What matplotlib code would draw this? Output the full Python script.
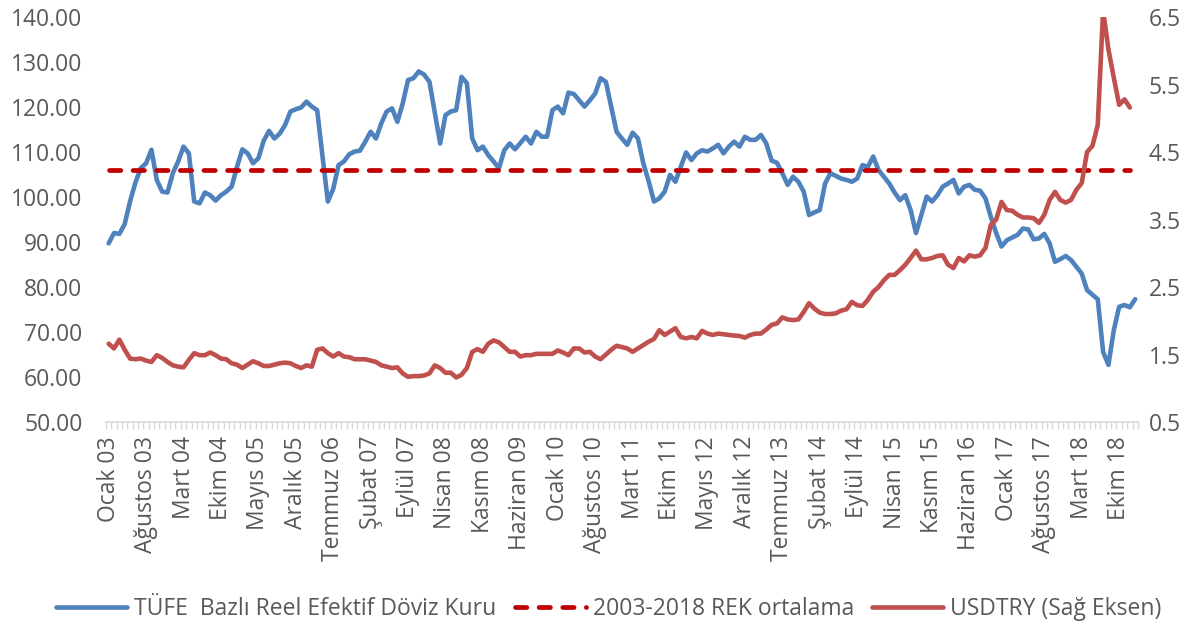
import numpy as np
import matplotlib
matplotlib.use("Agg")
import matplotlib.pyplot as plt
from matplotlib.ticker import FormatStrFormatter

# TÜFE bazlı reel efektif döviz kuru, aylık (Ocak 2003 - Ocak 2019)
rek = [89.7, 92.0, 91.8, 94.0, 99.0, 103.2, 106.4, 107.5, 110.5, 103.8,
       101.2, 101.0, 105.3, 107.9, 111.2, 109.7, 99.0, 98.6, 101.0, 100.4,
       99.2, 100.4, 101.2, 102.3, 106.7, 110.6, 109.7, 107.5, 108.6, 112.5,
       114.7, 113.0, 114.1, 116.0, 119.0, 119.5, 119.9, 121.2, 120.1, 119.3,
       109.0, 99.0, 101.8, 107.1, 107.9, 109.5, 110.1, 110.3, 112.3, 114.5,
       113.0, 116.4, 119.0, 119.7, 116.7, 120.8, 126.0, 126.4, 127.9, 127.2,
       125.6, 118.7, 111.9, 118.2, 119.0, 119.3, 126.7, 125.3, 113.0, 110.4,
       111.2, 109.3, 107.9, 106.4, 110.4, 111.9, 110.6, 112.0, 113.4, 111.9,
       114.5, 113.4, 113.4, 119.3, 120.1, 118.6, 123.2, 122.9, 121.5, 120.1,
       121.5, 123.0, 126.4, 125.6, 120.1, 114.5, 113.0, 111.6, 114.3, 113.0,
       107.5, 103.5, 99.0, 99.7, 101.2, 104.9, 103.4, 106.7, 109.9, 108.2,
       109.7, 110.4, 110.1, 110.8, 111.6, 109.7, 111.2, 112.3, 111.2, 113.4,
       112.7, 112.7, 113.8, 111.9, 108.1, 107.6, 105.3, 102.7, 104.5, 103.4,
       101.2, 96.0, 96.6, 97.1, 103.0, 105.3, 104.7, 104.1, 103.8, 103.4,
       104.1, 107.1, 106.7, 109.0, 106.0, 104.5, 103.0, 101.0, 99.3, 100.4,
       97.1, 92.0, 96.0, 100.1, 99.0, 100.4, 102.3, 103.0, 103.8, 100.8,
       102.3, 102.7, 101.6, 101.4, 99.7, 95.6, 92.0, 89.0, 90.4, 91.0,
       91.6, 93.0, 92.8, 90.6, 90.8, 91.8, 89.7, 85.6, 86.2, 86.9,
       86.0, 84.5, 83.0, 79.3, 78.3, 77.3, 65.6, 62.7, 70.4, 75.6,
       76.0, 75.5, 77.3]

# USDTRY (sağ eksen)
usdtry = [1.66, 1.59, 1.72, 1.57, 1.44, 1.43, 1.44, 1.41, 1.39, 1.49,
          1.45, 1.39, 1.34, 1.32, 1.31, 1.42, 1.52, 1.49, 1.49, 1.53,
          1.49, 1.44, 1.43, 1.37, 1.35, 1.30, 1.35, 1.40, 1.37, 1.33,
          1.33, 1.35, 1.37, 1.38, 1.37, 1.33, 1.30, 1.34, 1.32, 1.57,
          1.59, 1.52, 1.47, 1.52, 1.47, 1.46, 1.43, 1.43, 1.43, 1.41,
          1.39, 1.34, 1.32, 1.30, 1.31, 1.22, 1.17, 1.18, 1.18, 1.19,
          1.22, 1.34, 1.30, 1.23, 1.23, 1.16, 1.20, 1.30, 1.54, 1.58,
          1.54, 1.66, 1.71, 1.68, 1.61, 1.54, 1.54, 1.47, 1.49, 1.49,
          1.51, 1.51, 1.51, 1.51, 1.56, 1.53, 1.49, 1.59, 1.59, 1.53,
          1.54, 1.47, 1.43, 1.50, 1.57, 1.63, 1.61, 1.59, 1.54, 1.59,
          1.64, 1.69, 1.73, 1.86, 1.79, 1.84, 1.89, 1.76, 1.74, 1.76,
          1.74, 1.85, 1.81, 1.79, 1.81, 1.80, 1.79, 1.78, 1.775, 1.75,
          1.79, 1.81, 1.81, 1.87, 1.94, 1.96, 2.05, 2.02, 2.01, 2.02,
          2.13, 2.26, 2.18, 2.12, 2.10, 2.10, 2.11, 2.15, 2.17, 2.28,
          2.23, 2.22, 2.31, 2.43, 2.50, 2.60, 2.68, 2.68, 2.75, 2.83,
          2.93, 3.04, 2.91, 2.91, 2.93, 2.96, 2.97, 2.83, 2.78, 2.93,
          2.88, 2.97, 2.95, 2.97, 3.08, 3.42, 3.50, 3.76, 3.64, 3.63,
          3.57, 3.53, 3.53, 3.52, 3.45, 3.57, 3.79, 3.91, 3.79, 3.75,
          3.79, 3.94, 4.04, 4.50, 4.59, 4.90, 6.60, 6.02, 5.60, 5.20,
          5.28, 5.16]

rek_ort = 106.0  # 2003-2018 ortalaması
n_ort = 192

tick_labels = ["Ocak 03", "Ağustos 03", "Mart 04", "Ekim 04", "Mayıs 05",
               "Aralık 05", "Temmuz 06", "Şubat 07", "Eylül 07", "Nisan 08",
               "Kasım 08", "Haziran 09", "Ocak 10", "Ağustos 10", "Mart 11",
               "Ekim 11", "Mayıs 12", "Aralık 12", "Temmuz 13", "Şubat 14",
               "Eylül 14", "Nisan 15", "Kasım 15", "Haziran 16", "Ocak 17",
               "Ağustos 17", "Mart 18", "Ekim 18"]

plt.rcParams['font.family'] = ['Open Sans', 'DejaVu Sans']
txt = '#595959'
fs = 16.5

fig = plt.figure(figsize=(11.99, 6.35), dpi=100)
ax = fig.add_axes([0.0884, 0.3354, 0.8606, 0.6378])
ax2 = ax.twinx()

x1 = np.arange(len(rek))
x2 = np.arange(len(usdtry))
l1, = ax.plot(x1, rek, color='#4f81bd', lw=3.3, solid_capstyle='round',
              solid_joinstyle='round', label='TÜFE  Bazlı Reel Efektif Döviz Kuru')
l2, = ax.plot(np.arange(n_ort), [rek_ort] * n_ort, color='#c00000', lw=3.4,
              dashes=(2.4, 2.6), dash_capstyle='round',
              label='2003-2018 REK ortalama')
l3, = ax2.plot(x2, usdtry, color='#c0504d', lw=3.3, solid_capstyle='round',
               solid_joinstyle='round', label='USDTRY (Sağ Eksen)')

ax.set_xlim(-0.5, len(rek) - 0.5)
ax.set_ylim(50, 140)
ax2.set_ylim(0.5, 6.5)
ax.set_yticks(np.arange(50, 141, 10))
ax2.set_yticks(np.arange(0.5, 6.6, 1.0))
ax.yaxis.set_major_formatter(FormatStrFormatter('%.2f'))
ax2.yaxis.set_major_formatter(FormatStrFormatter('%.1f'))

ax.set_xticks(np.arange(0, len(rek), 7))
ax.set_xticklabels(tick_labels, rotation=90)
ax.set_xticks(np.arange(-0.5, len(rek), 1), minor=True)

for a in (ax, ax2):
    for s in a.spines.values():
        s.set_visible(False)
ax.spines['bottom'].set_visible(True)
ax.spines['bottom'].set_color('#d9d9d9')
ax.spines['bottom'].set_linewidth(1.2)

ax.tick_params(axis='x', which='major', length=0, pad=10, labelsize=fs, labelcolor=txt)
ax.tick_params(axis='x', which='minor', length=5, width=1, color='#d9d9d9')
ax.tick_params(axis='y', length=0, pad=17, labelsize=fs, labelcolor=txt)
ax2.tick_params(axis='y', length=0, pad=8, labelsize=fs, labelcolor=txt)

leg = fig.legend(handles=[l1, l2, l3], loc='lower center', ncol=3,
                 bbox_to_anchor=(0.508, -0.01), frameon=False, fontsize=fs,
                 handlelength=3.1, columnspacing=0.8, handletextpad=0.3)
for t in leg.get_texts():
    t.set_color(txt)

fig.savefig('out.png', dpi=100)
